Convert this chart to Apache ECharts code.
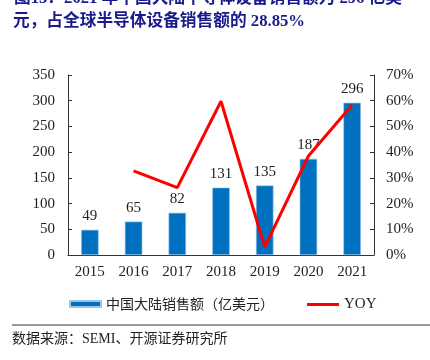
<!DOCTYPE html>
<html><head><meta charset="utf-8">
<script src="https://cdn.jsdelivr.net/npm/echarts@6/dist/echarts.min.js"></script>
<style>html,body{margin:0;padding:0;background:#fff}#c{width:430px;height:360px}</style>
</head><body><div id="c"></div>
<script>
const categories = ['2015','2016','2017','2018','2019','2020','2021'];
const salesValues = [49, 65, 82, 131, 135, 187, 296];
const yoyValues = [null, 0.327, 0.262, 0.598, 0.031, 0.385, 0.583];
const leftTicks = [0, 50, 100, 150, 200, 250, 300, 350];
const rightTicks = ['0%','10%','20%','30%','40%','50%','60%','70%'];

const serif = "'Liberation Serif', 'Noto Sans CJK SC'";
const cjk = "'Noto Sans CJK SC'";
const chart = echarts.init(document.getElementById('c'));
chart.setOption({
  animation: false,
  grid: {left: 68, right: 56, top: 75, bottom: 105},
  legend: [
    {data: [{name: '中国大陆销售额（亿美元）', icon: 'rect'}], left: 69, top: 297, padding: 0, itemWidth: 31, itemHeight: 6, itemGap: 6,
     textStyle: {fontFamily: cjk, fontSize: 14, color: '#222'}},
    {data: [{name: 'YOY', icon: 'rect'}], left: 307, top: 297, padding: 0, itemWidth: 32, itemHeight: 3, itemGap: 3,
     textStyle: {fontFamily: serif, fontSize: 15, color: '#222'}}
  ],
  xAxis: {
    type: 'category', data: categories,
    axisLine: {lineStyle: {color: '#333'}},
    axisTick: {inside: true, length: 4, lineStyle: {color: '#333'}},
    axisLabel: {fontFamily: serif, fontSize: 15, color: '#222', margin: 10}
  },
  yAxis: [
    {type: 'value', min: 0, max: 350, interval: 50, position: 'left',
     axisLine: {show: true, lineStyle: {color: '#333'}},
     axisTick: {show: true, inside: true, length: 4, lineStyle: {color: '#333'}},
     splitLine: {show: false},
     axisLabel: {fontFamily: serif, fontSize: 15, color: '#222', margin: 13,
       formatter: v => leftTicks.includes(v) ? String(v) : ''}},
    {type: 'value', min: 0, max: 0.7, interval: 0.1, position: 'right',
     axisLine: {show: true, lineStyle: {color: '#333'}},
     axisTick: {show: true, inside: true, length: 4, lineStyle: {color: '#333'}},
     splitLine: {show: false},
     axisLabel: {fontFamily: serif, fontSize: 15, color: '#222', margin: 12,
       formatter: v => rightTicks[Math.round(v * 10)]}}
  ],
  series: [
    {name: '中国大陆销售额（亿美元）', type: 'bar', data: salesValues, barWidth: '40%',
     itemStyle: {color: '#0070C0', borderColor: '#9DC3E6', borderWidth: 0.6},
     label: {show: true, position: 'top', distance: 6, fontFamily: serif, fontSize: 15, color: '#222'}},
    {name: 'YOY', type: 'line', yAxisIndex: 1, data: yoyValues, symbol: 'none',
     lineStyle: {color: '#FF0000', width: 3}, itemStyle: {color: '#FF0000'}}
  ],
  graphic: [
    {type: 'text', left: 14, top: -10, style: {text: '图15：2021 年中国大陆半导体设备销售额为 296 亿美', fontFamily: serif, fontWeight: 'bold', fontSize: 16.7, fill: '#1a1a8c'}},
    {type: 'text', left: 13, top: 13, style: {text: '元，占全球半导体设备销售额的 28.85%', fontFamily: serif, fontWeight: 'bold', fontSize: 16.7, fill: '#1a1a8c'}},
    {type: 'rect', shape: {x: 12, y: 324, width: 418, height: 2}, style: {fill: '#999'}},
    {type: 'text', left: 12, top: 332, style: {text: '数据来源：SEMI、开源证券研究所', fontFamily: serif, fontSize: 14, fill: '#222'}}
  ]
});
</script></body></html>
